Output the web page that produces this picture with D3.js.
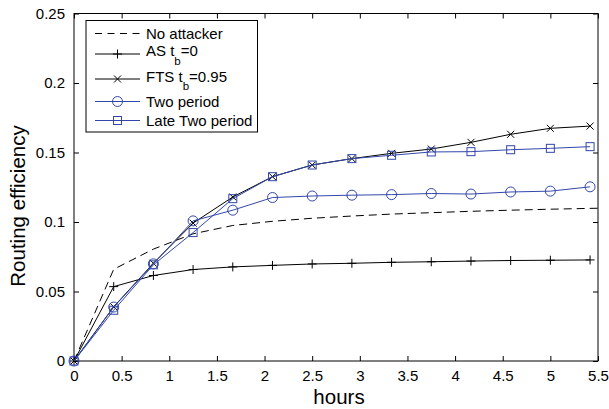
<!DOCTYPE html>
<html><head><meta charset="utf-8">
<script src="https://cdn.jsdelivr.net/npm/d3@7"></script>
<style>body{margin:0;background:#fff}svg{display:block;font-family:"Liberation Sans",Arial,sans-serif}</style>
</head><body><svg id="c" width="609" height="409"></svg>
<script>
const hours = [0, 0.4167, 0.8333, 1.25, 1.6667, 2.0833, 2.5, 2.9167, 3.3333, 3.75, 4.1667, 4.5833, 5, 5.4167];
const hoursNoAttack = [0, 0.4167, 0.8333, 1.25, 1.6667, 2.0833, 2.5, 2.9167, 3.3333, 3.75, 4.1667, 4.5833, 5, 5.4167, 5.5];
const noAttacker = [0, 0.066, 0.0805, 0.0915, 0.0975, 0.1005, 0.1027, 0.1043, 0.1057, 0.1067, 0.1077, 0.1085, 0.1092, 0.1098, 0.1099];
const asTb0 = [0, 0.0535, 0.0615, 0.0658, 0.0677, 0.0688, 0.0698, 0.0703, 0.071, 0.0714, 0.0719, 0.0723, 0.0725, 0.0727];
const ftsTb095 = [0, 0.039, 0.0703, 0.0992, 0.118, 0.1326, 0.141, 0.1456, 0.1494, 0.1525, 0.1573, 0.1631, 0.1674, 0.169];
const twoPeriod = [0, 0.0388, 0.0699, 0.1008, 0.1085, 0.1176, 0.1187, 0.1193, 0.1197, 0.1205, 0.1201, 0.1216, 0.1222, 0.1253];
const lateTwoPeriod = [0, 0.0365, 0.0692, 0.0924, 0.1168, 0.1326, 0.141, 0.1456, 0.148, 0.1504, 0.1506, 0.152, 0.153, 0.1542];
const xTicks = [0, 0.5, 1, 1.5, 2, 2.5, 3, 3.5, 4, 4.5, 5, 5.5];
const yTicks = [0, 0.05, 0.1, 0.15, 0.2, 0.25];
const xLabel = "hours", yLabel = "Routing efficiency";

const svg = d3.select("#c");
const L = 74, R = 598, T = 13.5, B = 361;
const x = d3.scaleLinear().domain([0, 5.5]).range([L, R]);
const y = d3.scaleLinear().domain([0, 0.25]).range([B, T]);
const blue = "#3347aa";

// box
svg.append("rect").attr("x", L).attr("y", T).attr("width", R - L).attr("height", B - T)
  .attr("fill", "none").attr("stroke", "#000").attr("stroke-width", 1);

const fmt = d => (d === 0 ? "0" : String(d));
const gx = svg.append("g").attr("transform", `translate(0,${B})`)
  .call(d3.axisBottom(x).tickValues(xTicks).tickFormat(fmt).tickSizeInner(-5).tickSizeOuter(0).tickPadding(9));
const gxt = svg.append("g").attr("transform", `translate(0,${T})`)
  .call(d3.axisTop(x).tickValues(xTicks).tickFormat("").tickSizeInner(-5).tickSizeOuter(0));
const gy = svg.append("g").attr("transform", `translate(${L},0)`)
  .call(d3.axisLeft(y).tickValues(yTicks).tickFormat(fmt).tickSizeInner(-5).tickSizeOuter(0).tickPadding(9));
const gyr = svg.append("g").attr("transform", `translate(${R},0)`)
  .call(d3.axisRight(y).tickValues(yTicks).tickFormat("").tickSizeInner(-5).tickSizeOuter(0));
[gx, gxt, gy, gyr].forEach(g => {
  g.select(".domain").remove();
  g.selectAll("text").attr("font-size", 15).attr("fill", "#000").attr("font-family", "Liberation Sans, Arial, sans-serif");
  g.selectAll("line").attr("stroke", "#000");
});
gx.selectAll("text").attr("dy", "0.71em");

svg.append("text").attr("x", 339).attr("y", 404).attr("text-anchor", "middle")
  .attr("font-size", 20.5).text(xLabel);
svg.append("text").attr("transform", `translate(25,206) rotate(-90)`).attr("text-anchor", "middle")
  .attr("font-size", 20.5).text(yLabel);

const line = d3.line();
function drawSeries(xs, ys, color, dash) {
  svg.append("path").attr("d", line(xs.map((h, i) => [x(h), y(ys[i])])))
    .attr("fill", "none").attr("stroke", color).attr("stroke-width", 1)
    .attr("stroke-dasharray", dash || null);
}
function marker(g, type, cx, cy, color) {
  if (type === "plus") {
    g.append("path").attr("d", `M${cx - 4.5},${cy}H${cx + 4.5}M${cx},${cy - 4.5}V${cy + 4.5}`).attr("stroke", color).attr("fill", "none");
  } else if (type === "x") {
    g.append("path").attr("d", `M${cx - 3.5},${cy - 3.5}L${cx + 3.5},${cy + 3.5}M${cx - 3.5},${cy + 3.5}L${cx + 3.5},${cy - 3.5}`).attr("stroke", color).attr("fill", "none");
  } else if (type === "circle") {
    g.append("circle").attr("cx", cx).attr("cy", cy).attr("r", 5).attr("stroke", color).attr("fill", "none");
  } else if (type === "square") {
    g.append("rect").attr("x", cx - 4).attr("y", cy - 4).attr("width", 8).attr("height", 8).attr("stroke", color).attr("fill", "none");
  }
}
function drawMarkers(xs, ys, type, color) {
  const g = svg.append("g");
  xs.forEach((h, i) => marker(g, type, x(h), y(ys[i]), color));
}

drawSeries(hoursNoAttack, noAttacker, "#000", "8,5");
drawSeries(hours, asTb0, "#000"); drawMarkers(hours, asTb0, "plus", "#000");
drawSeries(hours, ftsTb095, "#000"); drawMarkers(hours, ftsTb095, "x", "#000");
drawSeries(hours, twoPeriod, blue); drawMarkers(hours, twoPeriod, "circle", blue);
drawSeries(hours, lateTwoPeriod, blue); drawMarkers(hours, lateTwoPeriod, "square", blue);

// legend
const lg = svg.append("g");
lg.append("rect").attr("x", 86).attr("y", 20.5).attr("width", 171.5).attr("height", 111.5)
  .attr("fill", "#fff").attr("stroke", "#000").attr("stroke-width", 1);
const entries = [
  {label: ["No attacker"], color: "#000", dash: "7,5.5", m: null, cy: 33.5, base: 38.5},
  {label: ["AS t", "b", "=0"], color: "#000", m: "plus", cy: 54, base: 56},
  {label: ["FTS t", "b", "=0.95"], color: "#000", m: "x", cy: 79, base: 81.5},
  {label: ["Two period"], color: blue, m: "circle", cy: 101.5, base: 106.5},
  {label: ["Late Two period"], color: blue, m: "square", cy: 120.5, base: 125.5}
];
entries.forEach(e => {
  lg.append("line").attr("x1", 95).attr("x2", 140).attr("y1", e.cy).attr("y2", e.cy)
    .attr("stroke", e.color).attr("stroke-dasharray", e.dash || null);
  if (e.m) marker(lg, e.m, 117.5, e.cy, e.color);
  const t = lg.append("text").attr("x", 146).attr("y", e.base).attr("font-size", 15);
  t.append("tspan").text(e.label[0]);
  if (e.label.length > 1) {
    t.append("tspan").attr("dy", 8.5).attr("font-size", 11.5).text(e.label[1]);
    t.append("tspan").attr("dy", -8.5).text(e.label[2]);
  }
});
</script></body></html>
